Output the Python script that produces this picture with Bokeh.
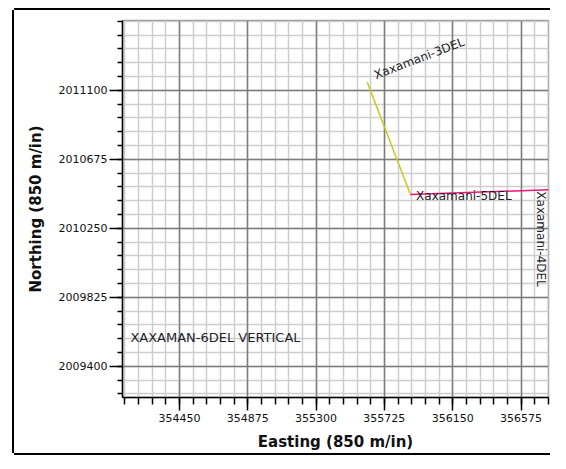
from bokeh.plotting import figure
from bokeh.models import (Range1d, FixedTicker, BasicTickFormatter, ColumnDataSource,
                          Grid, LinearAxis)
from bokeh.core.properties import value
from bokeh.embed import file_html
from bokeh.resources import INLINE
import math

# ---- data ----
x_ticks = [354450, 354875, 355300, 355725, 356150, 356575]
y_ticks = [2009400, 2009825, 2010250, 2010675, 2011100]
x_min, x_max = 354096, 356746
y_min, y_max = 2009208, 2011530
minor_step = 85

well_3del_x = [355618, 355885]
well_3del_y = [2011151, 2010465]
well_5del_x = [355885, 356746]
well_5del_y = [2010459, 2010487]

label_names = ["Xaxamani-3DEL", "Xaxamani-5DEL", "Xaxamani-4DEL"]
label_x = [355618, 355885, 356700]
label_y = [2011151, 2010462, 2010478]
label_angle_deg = [21, 0, -90]
label_dx = [10, 6, 0]
label_dy = [0, 2, 0]
label_align = ["left", "left", "left"]
label_base = ["bottom", "middle", "middle"]

vertical_label = "XAXAMAN-6DEL VERTICAL"
vertical_label_x = [354145]
vertical_label_y = [2009576]

FONT = "DejaVu Sans"

def minors(ticks, lo, hi):
    out = []
    v = ticks[0]
    while v - minor_step >= lo:
        v -= minor_step
    while v <= hi:
        out.append(v)
        v += minor_step
    return out

xticker = FixedTicker(ticks=x_ticks, minor_ticks=minors(x_ticks, x_min, x_max))
yticker = FixedTicker(ticks=y_ticks, minor_ticks=minors(y_ticks, y_min, y_max))

W, H = 536, 443
p = figure(width=W, height=H, output_backend="svg", toolbar_location=None,
           x_range=Range1d(x_min, x_max), y_range=Range1d(y_min, y_max),
           x_axis_type=None, y_axis_type=None,
           min_border_left=108, min_border_top=10, min_border_right=2, min_border_bottom=55)
p.styles = {"margin-left": "14px", "margin-top": "10px",
            "box-shadow": "-2px 0 0 0 #000, 0 -2px 0 0 #000, 0 2px 0 0 #000"}
p.background_fill_color = "white"
p.border_fill_color = "white"
p.outline_line_color = "#9a9a9a"
p.outline_line_width = 1.5

fmt = BasicTickFormatter(use_scientific=False)

xaxis = LinearAxis(ticker=xticker, formatter=fmt, axis_label="Easting (850 m/in)")
yaxis = LinearAxis(ticker=yticker, formatter=fmt, axis_label="Northing (850 m/in)")
for ax in (xaxis, yaxis):
    ax.axis_line_color = "black"
    ax.axis_line_width = 1.5
    ax.major_tick_line_color = "black"
    ax.major_tick_line_width = 1.5
    ax.minor_tick_line_color = "black"
    ax.minor_tick_line_width = 1.5
    ax.major_tick_in = 0
    ax.minor_tick_in = 0
    ax.major_tick_out = 13
    ax.major_label_text_font = FONT
    ax.major_label_text_font_size = "11px"
    ax.major_label_text_color = "#111111"
    ax.axis_label_text_font = FONT
    ax.axis_label_text_font_size = "15px"
    ax.axis_label_text_font_style = "bold"
    ax.axis_label_text_color = "#111111"
xaxis.minor_tick_out = 7
yaxis.minor_tick_out = 5
xaxis.major_label_standoff = 3
yaxis.major_label_standoff = 2
xaxis.axis_label_standoff = 8
yaxis.axis_label_standoff = 11
yaxis.major_label_orientation = "horizontal"
p.add_layout(xaxis, "below")
p.add_layout(yaxis, "left")

# grids: minor first, then major on top
for dim, tk in ((0, xticker), (1, yticker)):
    g = Grid(dimension=dim, ticker=tk, grid_line_color=None,
             minor_grid_line_color="#cdcdcd", minor_grid_line_width=1.5)
    p.add_layout(g)
for dim, tk in ((0, xticker), (1, yticker)):
    g = Grid(dimension=dim, ticker=tk, grid_line_color="#7c7c7c", grid_line_width=1.5)
    p.add_layout(g)

p.line(well_3del_x, well_3del_y, line_color="#c8c81e", line_width=1.5)
p.line(well_5del_x, well_5del_y, line_color="#f0147a", line_width=1.5)

src = ColumnDataSource(dict(x=label_x, y=label_y, t=label_names,
                            a=[math.radians(a) for a in label_angle_deg],
                            dx=label_dx, dy=label_dy, al=label_align, bl=label_base))
p.text(x="x", y="y", text="t", angle="a", x_offset="dx", y_offset="dy",
       text_align="al", text_baseline="bl", source=src,
       text_font=value(FONT), text_font_size="12px", text_color="#1e1e28")

p.text(x=vertical_label_x, y=vertical_label_y, text=[vertical_label],
       text_align="left", text_baseline="middle",
       text_font=value(FONT), text_font_size="13px", text_color="#1e1e28")

open("out.html", "w").write(file_html(p, INLINE))
